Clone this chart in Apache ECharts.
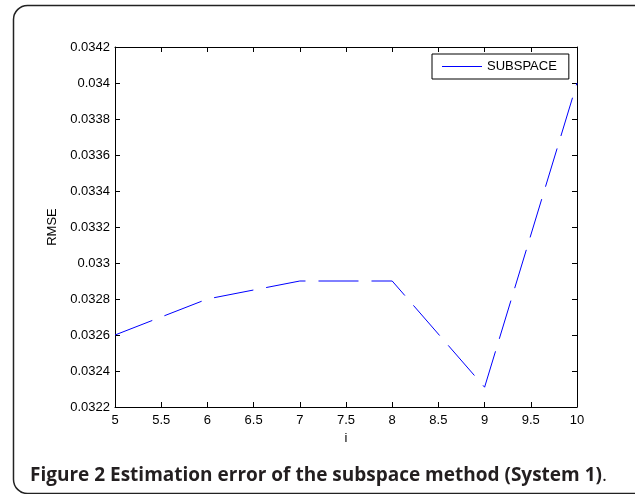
<!DOCTYPE html>
<html>
<head>
<meta charset="utf-8">
<script src="https://cdn.jsdelivr.net/npm/echarts@6/dist/echarts.min.js"></script>
<style>
html,body{margin:0;padding:0;background:#fff;}
#chart{width:635px;height:494px;}
</style>
</head>
<body>
<div id="chart"></div>
<script>
var xValues = [5, 6, 7, 8, 9, 10];
var rmseValues = [0.0326, 0.0328, 0.0329, 0.0329, 0.03231, 0.0340];
var seriesName = 'SUBSPACE';
var yTickLabels = ['0.0322','0.0324','0.0326','0.0328','0.033','0.0332','0.0334','0.0336','0.0338','0.034','0.0342'];
var xTickLabels = ['5','5.5','6','6.5','7','7.5','8','8.5','9','9.5','10'];
var captionBold = 'Figure 2 Estimation error of the subspace method (System 1)';
var captionEnd = '.';

var chart = echarts.init(document.getElementById('chart'), null, {renderer:'canvas'});
var font = 'Liberation Sans, Arial, Helvetica, sans-serif';
var yMin = 0.0322, yStep = 0.0002;
var axisCommon = {
  axisLine:{show:true, onZero:false, lineStyle:{color:'#000', width:1}},
  axisTick:{show:true, inside:true, length:5, lineStyle:{color:'#000'}},
  splitLine:{show:false}
};
var option = {
  animation:false,
  backgroundColor:'#fff',
  grid:{left:115, top:47, width:462, height:360, containLabel:false},
  legend:{
    show:true, data:[{name:seriesName, icon:'rect'}], left:432, top:54,
    orient:'horizontal', itemWidth:40, itemHeight:1, itemGap:0,
    padding:[6,12,6,10], borderColor:'#000', borderWidth:1, backgroundColor:'#fff',
    textStyle:{fontFamily:font, fontSize:13, color:'#000'}
  },
  xAxis:[
    Object.assign({type:'value', min:5, max:10, interval:0.5, position:'bottom',
      name:'i', nameLocation:'middle', nameGap:24,
      nameTextStyle:{fontFamily:font, fontSize:13, color:'#000'},
      axisLabel:{show:true, margin:7, fontFamily:font, fontSize:13, color:'#000',
        formatter:function(v){ var i=Math.round((v-5)/0.5); return xTickLabels[i]!==undefined?xTickLabels[i]:''; }}
    }, axisCommon),
    Object.assign({type:'value', min:5, max:10, interval:0.5, position:'top', axisLabel:{show:false}}, axisCommon)
  ],
  yAxis:[
    Object.assign({type:'value', min:yMin, max:0.0342, interval:yStep, position:'left',
      name:'RMSE', nameLocation:'middle', nameGap:56, nameRotate:90,
      nameTextStyle:{fontFamily:font, fontSize:13, color:'#000'},
      axisLabel:{show:true, margin:5, fontFamily:font, fontSize:13, color:'#000',
        formatter:function(v){ var i=Math.round((v-yMin)/yStep); return yTickLabels[i]!==undefined?yTickLabels[i]:''; }}
    }, axisCommon),
    Object.assign({type:'value', min:yMin, max:0.0342, interval:yStep, position:'right', axisLabel:{show:false}}, axisCommon)
  ],
  series:[{
    name:seriesName, type:'line', xAxisIndex:0, yAxisIndex:0,
    data:xValues.map(function(x,i){return [x, rmseValues[i]];}),
    showSymbol:false, symbol:'none',
    lineStyle:{color:'#0000ff', width:1, type:[40,13]},
    itemStyle:{color:'#0000ff'}
  }],
  graphic:[
    {type:'rect', silent:true, z:-1,
     shape:{x:13.5, y:5.5, width:640, height:488, r:14},
     style:{fill:'none', stroke:'#222', lineWidth:1.5}},
    {type:'text', left:30, top:466, silent:true,
     style:{text:'{b|'+captionBold+'}{n|'+captionEnd+'}',
       rich:{b:{fontFamily:'Open Sans, sans-serif', fontWeight:'bold', fontSize:19, fill:'#231f20'},
             n:{fontFamily:'Open Sans, sans-serif', fontWeight:'normal', fontSize:19, fill:'#231f20'}}}}
  ]
};
chart.setOption(option);
</script>
</body>
</html>
